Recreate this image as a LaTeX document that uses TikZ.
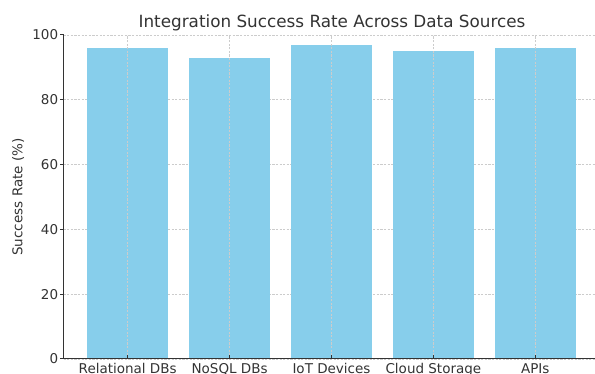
\documentclass[tikz,border=0pt]{standalone}
\usepackage{fontspec}
\setmainfont{DejaVu Sans}

\definecolor{barblue}{HTML}{87CEEB}
\definecolor{axisgray}{HTML}{333333}
\definecolor{gridgray}{HTML}{CCCCCC}

\begin{document}
\begin{tikzpicture}[x=1pt,y=1pt,
  gridline/.style={gridgray,line width=0.6pt,dash pattern=on 2.2pt off 1.4pt},
  spine/.style={axisgray,line width=1pt},
  ticklabel/.style={text=axisgray,inner sep=0pt,font=\fontsize{13.5}{16}\selectfont}]

\useasboundingbox (0,0) rectangle (595,374);
\clip (0,0) rectangle (595,374);

% Horizontal grid and y ticks
\foreach \v in {0,20,...,100}
{
\draw[gridline] (63.5,15+3.24*\v) -- (595,15+3.24*\v);
\draw[spine] (60,15+3.24*\v) -- (63.5,15+3.24*\v);
\node[ticklabel,anchor=east] (y\v) at (58.3,15+3.24*\v) {\v};
}

% Bars
\foreach \i/\val/\name in {
0/96/Relational DBs,
1/93/NoSQL DBs,
2/97/IoT Devices,
3/95/Cloud Storage,
4/96/APIs
}
{
\fill[barblue] (87+101.9*\i,15) rectangle (168.4+101.9*\i,15+3.24*\val);
\draw[gridline] (127.7+101.9*\i,15) -- (127.7+101.9*\i,339);
\draw[spine] (127.7+101.9*\i,15) -- (127.7+101.9*\i,18.5);
\node[ticklabel,anchor=base] (x\i) at (127.7+101.9*\i,0) {\name};
}

% Axes
\draw[spine] (63.5,339) -- (63.5,15) -- (595,15);

% Title and axis label
\node[text=axisgray,inner sep=0pt,anchor=base,
  font=\fontsize{16.8}{19}\selectfont] (title) at (332,346)
{Integration Success Rate Across Data Sources};

\node[ticklabel,anchor=base,rotate=90] (ylabel) at (22.5,177)
{Success Rate (\%)};

\end{tikzpicture}
\end{document}
